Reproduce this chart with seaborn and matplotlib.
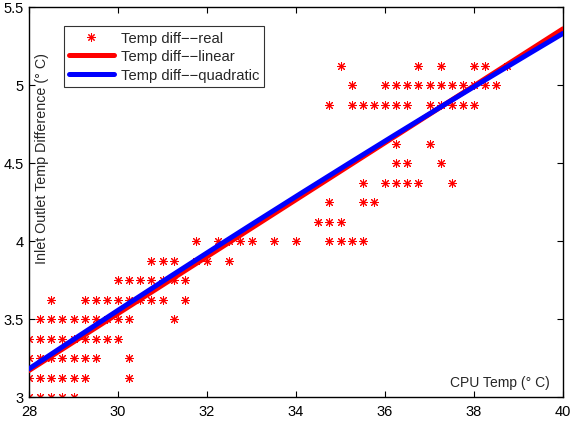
import numpy as np
import pandas as pd
import matplotlib
matplotlib.use("Agg")
import matplotlib.pyplot as plt
from matplotlib.lines import Line2D
import seaborn as sns

# ---- data ----
rows_y = [3.0, 3.125, 3.25, 3.375, 3.5, 3.625, 3.75, 3.875, 4.0, 4.125,
          4.25, 4.375, 4.5, 4.625, 4.875, 5.0, 5.125]
rows_x = [
    [28.0, 28.25, 28.5, 28.75, 29.0],
    [28.0, 28.25, 28.5, 28.75, 29.0, 29.25, 30.25],
    [28.0, 28.25, 28.5, 28.75, 29.0, 29.25, 29.5, 30.25],
    [28.0, 28.25, 28.5, 28.75, 29.0, 29.25, 29.5, 29.75, 30.0],
    [28.25, 28.5, 28.75, 29.0, 29.25, 29.5, 29.75, 30.0, 30.25, 31.25],
    [28.5, 29.25, 29.5, 29.75, 30.0, 30.25, 30.5, 30.75, 31.0, 31.5],
    [30.0, 30.25, 30.5, 30.75, 31.0, 31.25, 31.5],
    [30.75, 31.0, 31.25, 31.75, 32.0, 32.5],
    [31.75, 32.25, 32.5, 32.75, 33.0, 33.5, 34.0, 34.75, 35.0, 35.25, 35.5],
    [34.5, 34.75, 35.0],
    [34.75, 35.5, 35.75],
    [35.5, 36.0, 36.25, 36.5, 36.75, 37.5],
    [36.25, 36.5, 37.25],
    [36.25, 37.0],
    [34.75, 35.25, 35.5, 35.75, 36.0, 36.25, 36.5, 37.0, 37.25, 37.5, 37.75, 38.0],
    [35.25, 36.0, 36.25, 36.5, 36.75, 37.0, 37.25, 37.5, 37.75, 38.0, 38.25, 38.5],
    [35.0, 36.75, 37.25, 38.0, 38.25, 38.75],
]
lin_coef = [0.1825, -1.94]                # slope, intercept
quad_coef = [-0.000833, 0.23583, -2.7697]  # a, b, c
x_range = [28, 40]
x_ticks = [28, 30, 32, 34, 36, 38, 40]
y_ticks = [3, 3.5, 4, 4.5, 5, 5.5]
y_tick_labels = ["3", "3.5", "4", "4.5", "5", "5.5"]
legend_labels = ["Temp diff\u2212\u2212real", "Temp diff\u2212\u2212linear", "Temp diff\u2212\u2212quadratic"]

cpu = [x for xs in rows_x for x in xs]
diff = [y for y, xs in zip(rows_y, rows_x) for _ in xs]
pts = pd.DataFrame({"cpu": cpu, "diff": diff})

xg = np.linspace(x_range[0], x_range[1], 200)
fits = pd.DataFrame({
    "x": xg,
    "lin": np.polyval(lin_coef, xg),
    "quad": np.polyval(quad_coef, xg),
})

# ---- plot ----
sns.set_style("ticks")
plt.rcParams["font.family"] = ["Liberation Sans", "DejaVu Sans"]

fig = plt.figure(figsize=(5.71, 4.27), dpi=100)
ax = fig.add_axes([29 / 571, 1 - 398 / 427, 534 / 571, 390 / 427])

star = (8, 2, 0)
sns.scatterplot(data=pts, x="cpu", y="diff", ax=ax, marker=star, s=34,
                color="red", linewidth=0.75, legend=False, zorder=2)
sns.lineplot(data=fits, x="x", y="lin", ax=ax, color="red", linewidth=3.6, zorder=3)
sns.lineplot(data=fits, x="x", y="quad", ax=ax, color="blue", linewidth=3.6, zorder=4)

ax.set_xlim(x_range)
ax.set_ylim(3, 5.5)
ax.set_xticks(x_ticks)
ax.set_xticklabels([str(t) for t in x_ticks])
ax.set_yticks(y_ticks)
ax.set_yticklabels(y_tick_labels)
ax.set_xlabel("")
ax.set_ylabel("")
ax.tick_params(direction="in", length=4, width=0.8, top=True, right=True,
               labelsize=10.5, colors="black")
ax.tick_params(axis="x", pad=5)
ax.tick_params(axis="y", pad=4)
for s in ax.spines.values():
    s.set_visible(True)
    s.set_linewidth(1.0)
    s.set_color("black")

ax.text(0.976, 0.038, "CPU Temp (\u00b0 C)", transform=ax.transAxes,
        ha="right", va="center", fontsize=10)
ax.text(0.024, 0.615, "Inlet Outlet Temp Difference (\u00b0 C)", transform=ax.transAxes,
        ha="center", va="center", rotation=90, fontsize=10.3)

handles = [
    Line2D([], [], linestyle="none", marker=star, color="red", markersize=6, markeredgewidth=0.75),
    Line2D([], [], color="red", linewidth=3.6),
    Line2D([], [], color="blue", linewidth=3.6),
]
leg = ax.legend(handles, legend_labels, loc="upper left", bbox_to_anchor=(0.066, 0.952),
                fontsize=10.6, frameon=True, fancybox=False, edgecolor="black",
                borderpad=0.35, labelspacing=0.3, handlelength=3.0, handletextpad=0.5,
                borderaxespad=0)
leg.get_frame().set_linewidth(0.8)

fig.savefig("out.png", dpi=100, facecolor="white")
